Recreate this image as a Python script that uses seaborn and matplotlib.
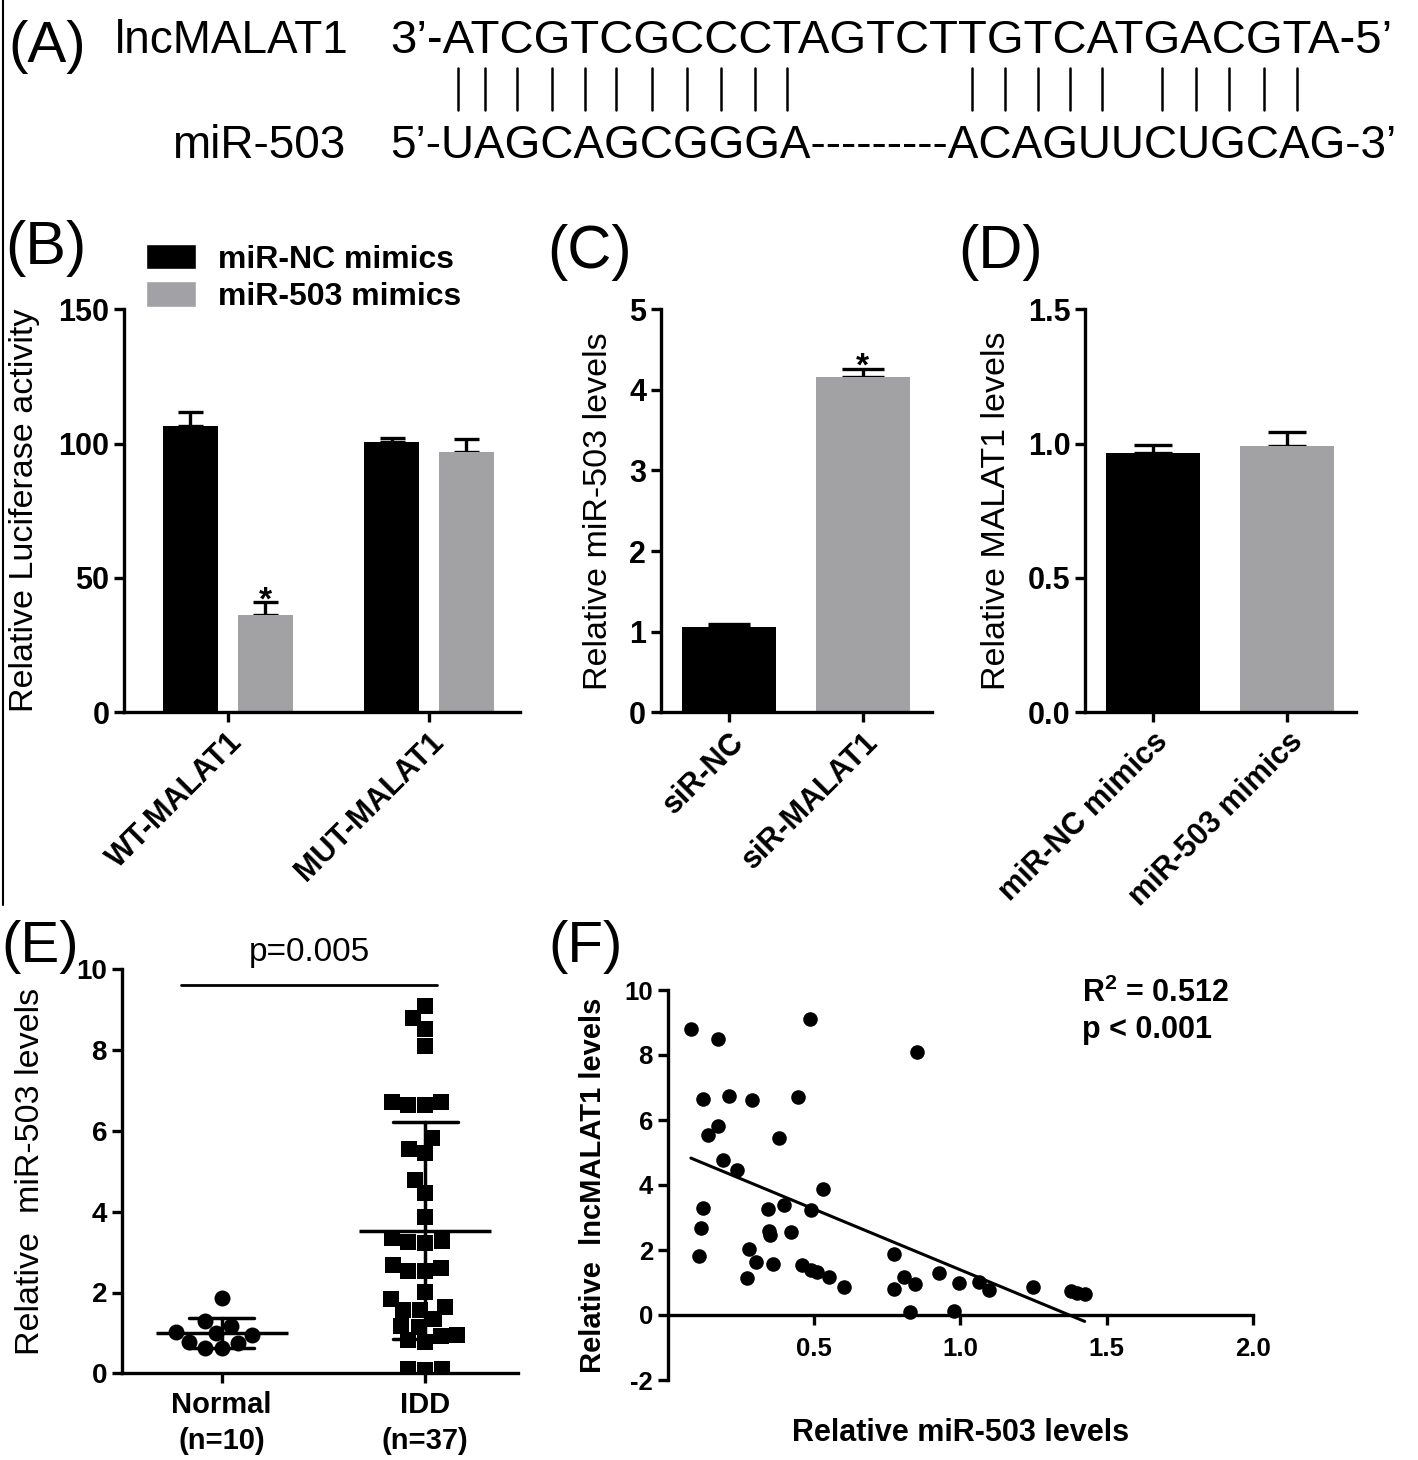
# Multi-panel figure: lncMALAT1 / miR-503 interaction (panels A-F)

import numpy as np
import pandas as pd
import matplotlib
matplotlib.use("Agg")
import matplotlib.pyplot as plt
from matplotlib.lines import Line2D
from matplotlib.patches import Patch
from matplotlib.font_manager import FontProperties
from matplotlib.ticker import FormatStrFormatter
import seaborn as sns

# ---------------- data ----------------
# (A) sequence alignment
lnc_label = "lncMALAT1"
mir_label = "miR-503"
lnc_seq = "ATCGTCGCCCTAGTCTTGTCATGACGTA"
mir_seq = "UAGCAGCGGGA---------ACAGUUCUGCAG"
# positions (1-based) in lnc_seq that carry a pairing bar
paired_pos = [1, 2, 3, 4, 5, 6, 7, 8, 9, 10, 11,
              17, 18, 19, 20, 21,
              23, 24, 25, 26, 27]

# (B) luciferase reporter
luc_groups = ["WT-MALAT1", "MUT-MALAT1"]
mimics = ["miR-NC mimics", "miR-503 mimics"]
luc_nc = [106.5, 100.7]
luc_nc_err = [5.4, 1.3]
luc_503 = [36.2, 96.8]
luc_503_err = [4.7, 4.8]
luc_503_sig = [True, False]

# (C) miR-503 after MALAT1 knockdown
si_groups = ["siR-NC", "siR-MALAT1"]
si_mean = [1.055, 4.165]
si_err = [0.035, 0.095]
si_sig = [False, True]

# (D) MALAT1 after miR-503 mimics
d_groups = ["miR-NC mimics", "miR-503 mimics"]
malat_mean = [0.964, 0.993]
malat_err = [0.03, 0.052]

# (E) miR-503 in tissues
e_order = ["Normal", "IDD"]
normal_vals = [1.86, 1.29, 1.17, 1.03, 0.99, 0.95, 0.78, 0.74, 0.63, 0.62]
idd_vals = [9.09, 8.79, 8.51, 8.10, 6.72, 6.64, 6.64, 6.72, 5.82, 5.54,
            5.46, 4.78, 4.46, 3.88, 3.28, 3.23, 3.25, 3.34, 2.68, 2.54,
            2.52, 2.60, 2.02, 1.83, 1.57, 1.63, 1.57, 1.34, 1.17, 1.15,
            0.92, 0.82, 0.78, 0.95, 0.10, 0.07, 0.10]
e_pvalue = "p=0.005"

# (F) correlation
mir503_levels = [0.080, 0.171, 0.487, 0.851, 0.122, 0.210, 0.289, 0.445, 0.171, 0.137,
                 0.380, 0.188, 0.236, 0.532, 0.122, 0.343, 0.397, 0.489, 0.114, 0.348,
                 0.351, 0.423, 0.106, 0.280, 0.304, 0.359, 0.272, 0.460, 0.490, 0.510,
                 0.551, 0.602, 0.775, 0.775, 0.807, 0.845, 0.829, 0.926, 0.995, 1.063,
                 1.097, 0.979, 1.247, 1.380, 1.400, 1.425]
lnc_levels = [8.79, 8.49, 9.10, 8.09, 6.64, 6.74, 6.62, 6.71, 5.83, 5.54,
              5.46, 4.77, 4.46, 3.88, 3.29, 3.25, 3.37, 3.23, 2.69, 2.59,
              2.46, 2.54, 1.82, 2.02, 1.62, 1.57, 1.15, 1.55, 1.40, 1.33,
              1.16, 0.87, 1.88, 0.79, 1.18, 0.95, 0.08, 1.28, 1.00, 1.03,
              0.77, 0.13, 0.87, 0.75, 0.69, 0.65]
f_stats = [r"R$^{\mathbf{2}}$ = 0.512", "p < 0.001"]

BLACK = "#000000"
GREY = "#a2a1a6"

# ---------------- style ----------------
sns.set_theme(style="ticks")
plt.rcParams.update({
    "font.family": ["Liberation Sans", "DejaVu Sans"],
    "font.weight": "bold",
    "mathtext.fontset": "custom",
    "mathtext.rm": "Liberation Sans",
    "mathtext.bf": "Liberation Sans:bold",
    "axes.unicode_minus": False,
    "axes.linewidth": 2.4,
    "axes.edgecolor": "black",
    "axes.labelcolor": "black",
    "text.color": "black",
    "xtick.color": "black",
    "ytick.color": "black",
    "xtick.major.width": 2.4,
    "ytick.major.width": 2.4,
    "xtick.major.size": 7,
    "ytick.major.size": 7,
})

W, H = 1418, 1460
fig = plt.figure(figsize=(W / 100, H / 100), dpi=100)


def px_axes(left, top, right, bottom):
    return fig.add_axes([left / W, 1 - bottom / H, (right - left) / W, (bottom - top) / H])


def fxy(x, y):
    return x / W, 1 - y / H


def panel_label(x, y, s, size=44):
    fig.text(*fxy(x, y), s, fontsize=size, fontweight="normal", ha="left", va="baseline")


def draw_errors(ax, errs, capsize):
    tops = []
    for container, err_list in zip(ax.containers, errs):
        for bar, e in zip(container, err_list):
            xc = bar.get_x() + bar.get_width() / 2
            ax.errorbar(xc, bar.get_height(), yerr=[[0], [e]], fmt="none",
                        ecolor="black", elinewidth=2.4, capsize=capsize,
                        capthick=2.4, zorder=0.9)
            tops.append((xc, bar.get_height() + e))
    return tops


def star(ax, x, y):
    ax.annotate("*", xy=(x, y), xytext=(0, -5), textcoords="offset points",
                ha="center", va="baseline", fontsize=24, fontweight="bold")


def bar_axes_style(ax, ylim, yticks, xlim, labels, ylabel, label_x):
    sns.despine(ax=ax)
    ax.set_ylim(ylim)
    ax.set_yticks(yticks)
    ax.set_xlim(xlim)
    ax.set_xticks(range(len(labels)), labels)
    ax.tick_params(labelsize=22)
    plt.setp(ax.get_xticklabels(), rotation=45, ha="right", rotation_mode="anchor")
    ax.set_xlabel("")
    ax.set_ylabel(ylabel, fontsize=24.5, fontweight="normal", va="center")
    ax.yaxis.set_label_coords(label_x, 0.5)


# ---------------- (A) ----------------
top_font = FontProperties(family=["Liberation Sans"], size=34, weight="normal")
bottom_font = FontProperties(family=["Liberation Sans"], size=33, weight="normal")
fig.text(*fxy(8, 62), "(A)", fontsize=42, fontweight="normal", va="baseline")
fig.text(*fxy(349, 53), lnc_label, ha="right", va="baseline", fontproperties=bottom_font)
fig.text(*fxy(390, 53), "3\u2019-" + lnc_seq + "-5\u2019", ha="left", va="baseline",
         fontproperties=top_font)
fig.text(*fxy(345, 158), mir_label, ha="right", va="baseline", fontproperties=bottom_font)
fig.text(*fxy(390, 158), "5\u2019-" + mir_seq + "-3\u2019", ha="left", va="baseline",
         fontproperties=bottom_font)

renderer = fig.canvas.get_renderer()


def width_px(s):
    return renderer.get_text_width_height_descent(s, top_font, ismath=False)[0]


for k in paired_pos:
    xc = 390 + width_px("3\u2019-" + lnc_seq[:k]) - width_px(lnc_seq[k - 1]) / 2
    fig.add_artist(Line2D([xc / W, xc / W], [1 - 68 / H, 1 - 110 / H],
                          color="black", linewidth=1.8))

# frame line on the left of panels A-D
fig.add_artist(Line2D([2.5 / W, 2.5 / W], [1, 1 - 905 / H], color="black", linewidth=1.5))

# ---------------- (B) ----------------
panel_label(5, 264, "(B)")
ax_b = px_axes(124, 309.3, 520, 712.3)
luc_df = pd.DataFrame({
    "construct": luc_groups * 2,
    "mimic": [mimics[0]] * len(luc_groups) + [mimics[1]] * len(luc_groups),
    "value": luc_nc + luc_503,
})
sns.barplot(data=luc_df, x="construct", y="value", hue="mimic", order=luc_groups,
            hue_order=mimics, palette=[BLACK, GREY], width=0.745, gap=0.27,
            errorbar=None, linewidth=0, legend=False, ax=ax_b)
tops_b = draw_errors(ax_b, [luc_nc_err, luc_503_err], capsize=9)
for (xc, top), sig in zip(tops_b[len(luc_groups):], luc_503_sig):
    if sig:
        star(ax_b, xc, top)
bar_axes_style(ax_b, (0, 150), [0, 50, 100, 150], (-0.515, 1.452), luc_groups,
               "Relative Luciferase activity", -0.25)
ax_b.legend(handles=[Patch(facecolor=c, label=m) for c, m in zip([BLACK, GREY], mimics)],
            loc="upper left", bbox_to_anchor=fxy(146, 244), bbox_transform=fig.transFigure,
            frameon=False, prop={"weight": "bold", "size": 23}, handlelength=1.55,
            handleheight=0.85, handletextpad=0.7, labelspacing=0.2, borderpad=0,
            borderaxespad=0)

# ---------------- (C) ----------------
panel_label(547, 268, "(C)")
ax_c = px_axes(660.7, 309.3, 931.7, 712.3)
si_df = pd.DataFrame({"group": si_groups, "value": si_mean})
sns.barplot(data=si_df, x="group", y="value", hue="group", order=si_groups,
            hue_order=si_groups, palette=[BLACK, GREY], width=0.7, errorbar=None,
            linewidth=0, legend=False, ax=ax_c)
tops_c = draw_errors(ax_c, [[e] for e in si_err], capsize=15)
for (xc, top), sig in zip(tops_c, si_sig):
    if sig:
        star(ax_c, xc, top)
bar_axes_style(ax_c, (0, 5), [0, 1, 2, 3, 4, 5], (-0.511, 1.516), si_groups,
               "Relative miR-503 levels", -0.231)

# ---------------- (D) ----------------
panel_label(958, 268, "(D)")
ax_d = px_axes(1085, 309.3, 1356, 712.3)
d_df = pd.DataFrame({"group": d_groups, "value": malat_mean})
sns.barplot(data=d_df, x="group", y="value", hue="group", order=d_groups,
            hue_order=d_groups, palette=[BLACK, GREY], width=0.7, errorbar=None,
            linewidth=0, legend=False, ax=ax_d)
draw_errors(ax_d, [[e] for e in malat_err], capsize=14)
bar_axes_style(ax_d, (0, 1.5), [0, 0.5, 1.0, 1.5], (-0.506, 1.51), d_groups,
               "Relative MALAT1 levels", -0.325)

# ---------------- (E) ----------------
panel_label(1, 962, "(E)", size=42)
ax_e = px_axes(121.7, 969.3, 518, 1373.3)
e_df = pd.DataFrame({
    "group": ["Normal"] * len(normal_vals) + ["IDD"] * len(idd_vals),
    "value": normal_vals + idd_vals,
})
sns.swarmplot(data=e_df[e_df["group"] == "Normal"], x="group", y="value", order=e_order,
              marker="o", size=11.5, color="black", linewidth=0, ax=ax_e)
sns.swarmplot(data=e_df[e_df["group"] == "IDD"], x="group", y="value", order=e_order,
              marker="s", size=11.5, color="black", linewidth=0, ax=ax_e)
sns.pointplot(data=e_df, x="group", y="value", order=e_order, errorbar="sd",
              capsize=0.32, color="black", marker="_", markersize=95,
              markeredgewidth=2.5, linestyle="none", err_kws={"linewidth": 2.5}, ax=ax_e)
sns.despine(ax=ax_e)
ax_e.set_ylim(0, 10)
ax_e.set_yticks([0, 2, 4, 6, 8, 10])
ax_e.set_xlim(-0.492, 1.457)
counts = e_df["group"].value_counts()
ax_e.set_xticks(range(len(e_order)), [f"{g}\n(n={counts[g]})" for g in e_order],
                linespacing=1.35)
ax_e.tick_params(axis="y", labelsize=20)
ax_e.tick_params(axis="x", labelsize=21, pad=6)
ax_e.set_xlabel("")
ax_e.set_ylabel("Relative  miR-503 levels", fontsize=24.5, fontweight="normal", va="center")
ax_e.yaxis.set_label_coords(-0.229, 0.5)
ax_e.plot([-0.2, 1.06], [9.6, 9.6], color="black", linewidth=2, clip_on=False)
ax_e.text(0.43, 10.2, e_pvalue, ha="center", va="baseline", fontsize=24,
          fontweight="normal")

# ---------------- (F) ----------------
panel_label(548, 962, "(F)", size=42)
ax_f = px_axes(667.5, 990, 1253, 1380)
sns.regplot(x=mir503_levels, y=lnc_levels, ci=None, color="black",
            scatter_kws={"s": 110, "linewidths": 0, "alpha": 1},
            line_kws={"linewidth": 2.2}, ax=ax_f)
sns.despine(ax=ax_f)
ax_f.spines["bottom"].set_position(("data", 0))
ax_f.set_xlim(0, 2)
ax_f.set_ylim(-2, 10)
ax_f.set_xticks([0.5, 1.0, 1.5, 2.0])
ax_f.set_yticks([-2, 0, 2, 4, 6, 8, 10])
ax_f.xaxis.set_major_formatter(FormatStrFormatter("%.1f"))
ax_f.tick_params(labelsize=18.5)
ax_f.tick_params(axis="x", pad=9)
ax_f.set_xlabel("Relative miR-503 levels", fontsize=22, fontweight="bold", va="center")
ax_f.xaxis.set_label_coords(0.5, (1380 - 1433) / 390)
ax_f.set_ylabel("Relative  lncMALAT1 levels", fontsize=21, fontweight="bold", va="center")
ax_f.yaxis.set_label_coords(-0.127, 0.5)
fig.text(*fxy(1082, 1002), f_stats[0], fontsize=22, va="baseline")
fig.text(*fxy(1082, 1038), f_stats[1], fontsize=22, va="baseline")

fig.savefig("out.png", dpi=100)
